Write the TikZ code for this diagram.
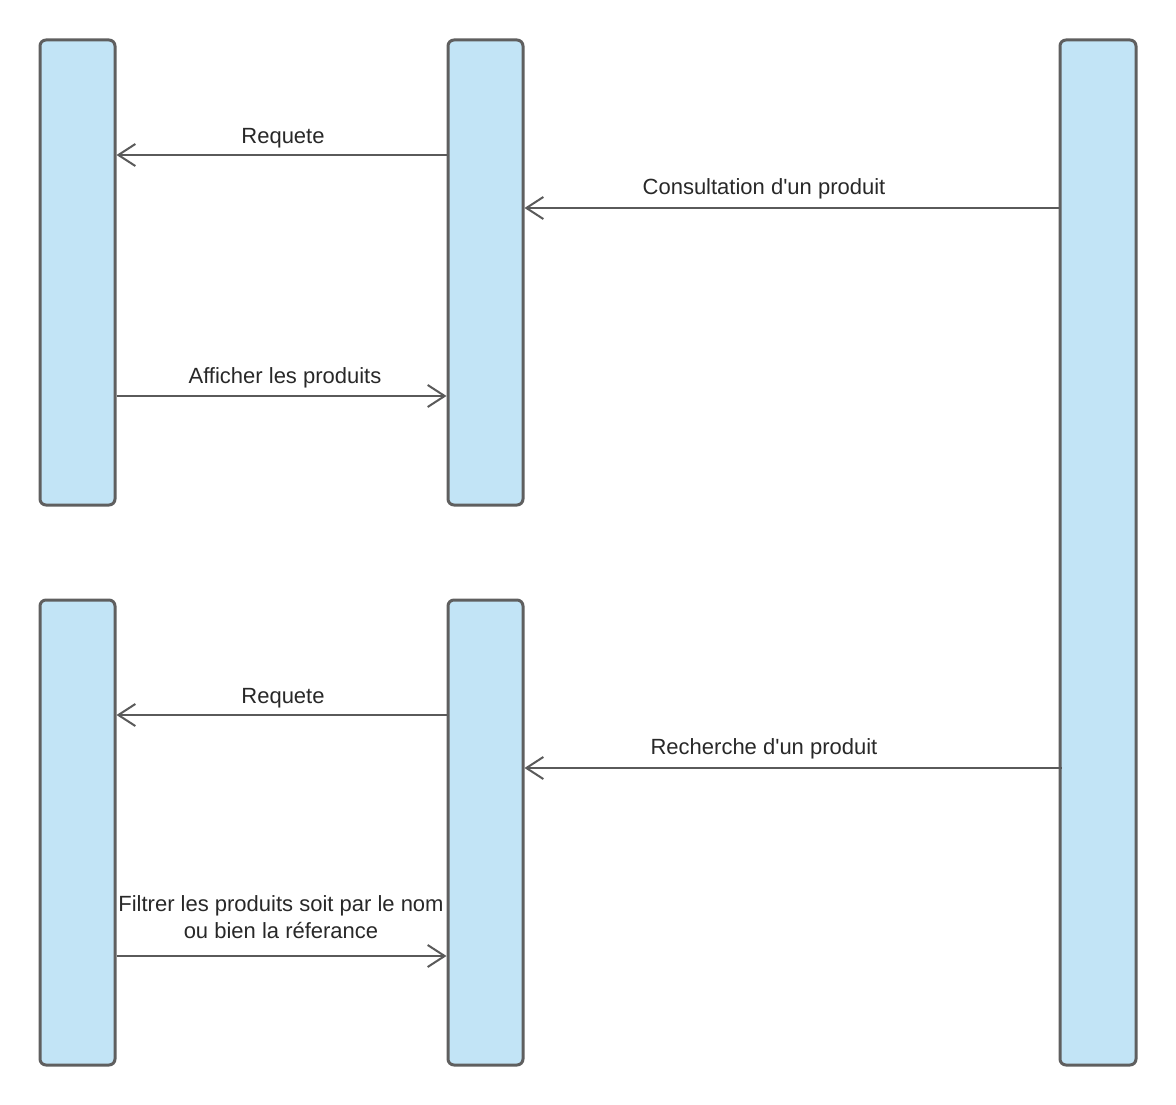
\documentclass[tikz,border=0pt]{standalone}
\usepackage{fontspec}
\setmainfont{Liberation Sans}
\usetikzlibrary{arrows.meta}
\definecolor{barfill}{RGB}{194,228,246}
\definecolor{barline}{RGB}{95,95,95}
\definecolor{msgline}{RGB}{90,90,90}
\definecolor{msgtext}{RGB}{40,40,40}
\begin{document}
\begin{tikzpicture}[x=1pt,y=-1pt,
  lifebar/.style={draw=barline,fill=barfill,line width=3pt,rounded corners=6pt,
    minimum width=75pt,inner sep=0pt,anchor=north west},
  msg/.style={draw=msgline,line width=2pt,-{Straight Barb[length=17pt,width=22pt,line width=2pt]}},
  lbl/.style={text=msgtext,font=\fontsize{22}{27}\selectfont,align=center,inner sep=0pt}]
\useasboundingbox (0,0) rectangle (1176,1105);
% activation bars (placed by their outer north-west corner)
\node[lifebar,minimum height=465pt]  (a1) at (38.5,38.5) {};
\node[lifebar,minimum height=465pt]  (b1) at (446.5,38.5) {};
\node[lifebar,minimum height=1025pt,minimum width=76pt] (c) at (1058.5,38.5) {};
\node[lifebar,minimum height=465pt]  (a2) at (38.5,598.5) {};
\node[lifebar,minimum height=465pt]  (b2) at (446.5,598.5) {};
% message levels
\coordinate (y1) at (0,155);
\coordinate (y2) at (0,208);
\coordinate (y3) at (0,396);
\coordinate (y4) at (0,715);
\coordinate (y5) at (0,768);
\coordinate (y6) at (0,956);
% first sequence
\draw[msg] (b1.west |- y1) -- (a1.east |- y1);
\node[lbl] (m1) at (283,138) {Requete};
\draw[msg] (c.west |- y2) -- (b1.east |- y2);
\node[lbl] (m2) at (764,189) {Consultation d\textquotesingle un produit};
\draw[msg] (a1.east |- y3) -- (b1.west |- y3);
\node[lbl] (m3) at (285,378) {Afficher les produits};
% second sequence
\draw[msg] (b2.west |- y4) -- (a2.east |- y4);
\node[lbl] (m4) at (283,698) {Requete};
\draw[msg] ([xshift=3pt]c.west |- y5) -- (b2.east |- y5);
\node[lbl] (m5) at (764,749) {Recherche d\textquotesingle un produit};
\draw[msg] (a2.east |- y6) -- (b2.west |- y6);
\node[lbl] (m6) at (281,917) {Filtrer les produits soit par le nom\\ou bien la réferance};
\end{tikzpicture}
\end{document}
